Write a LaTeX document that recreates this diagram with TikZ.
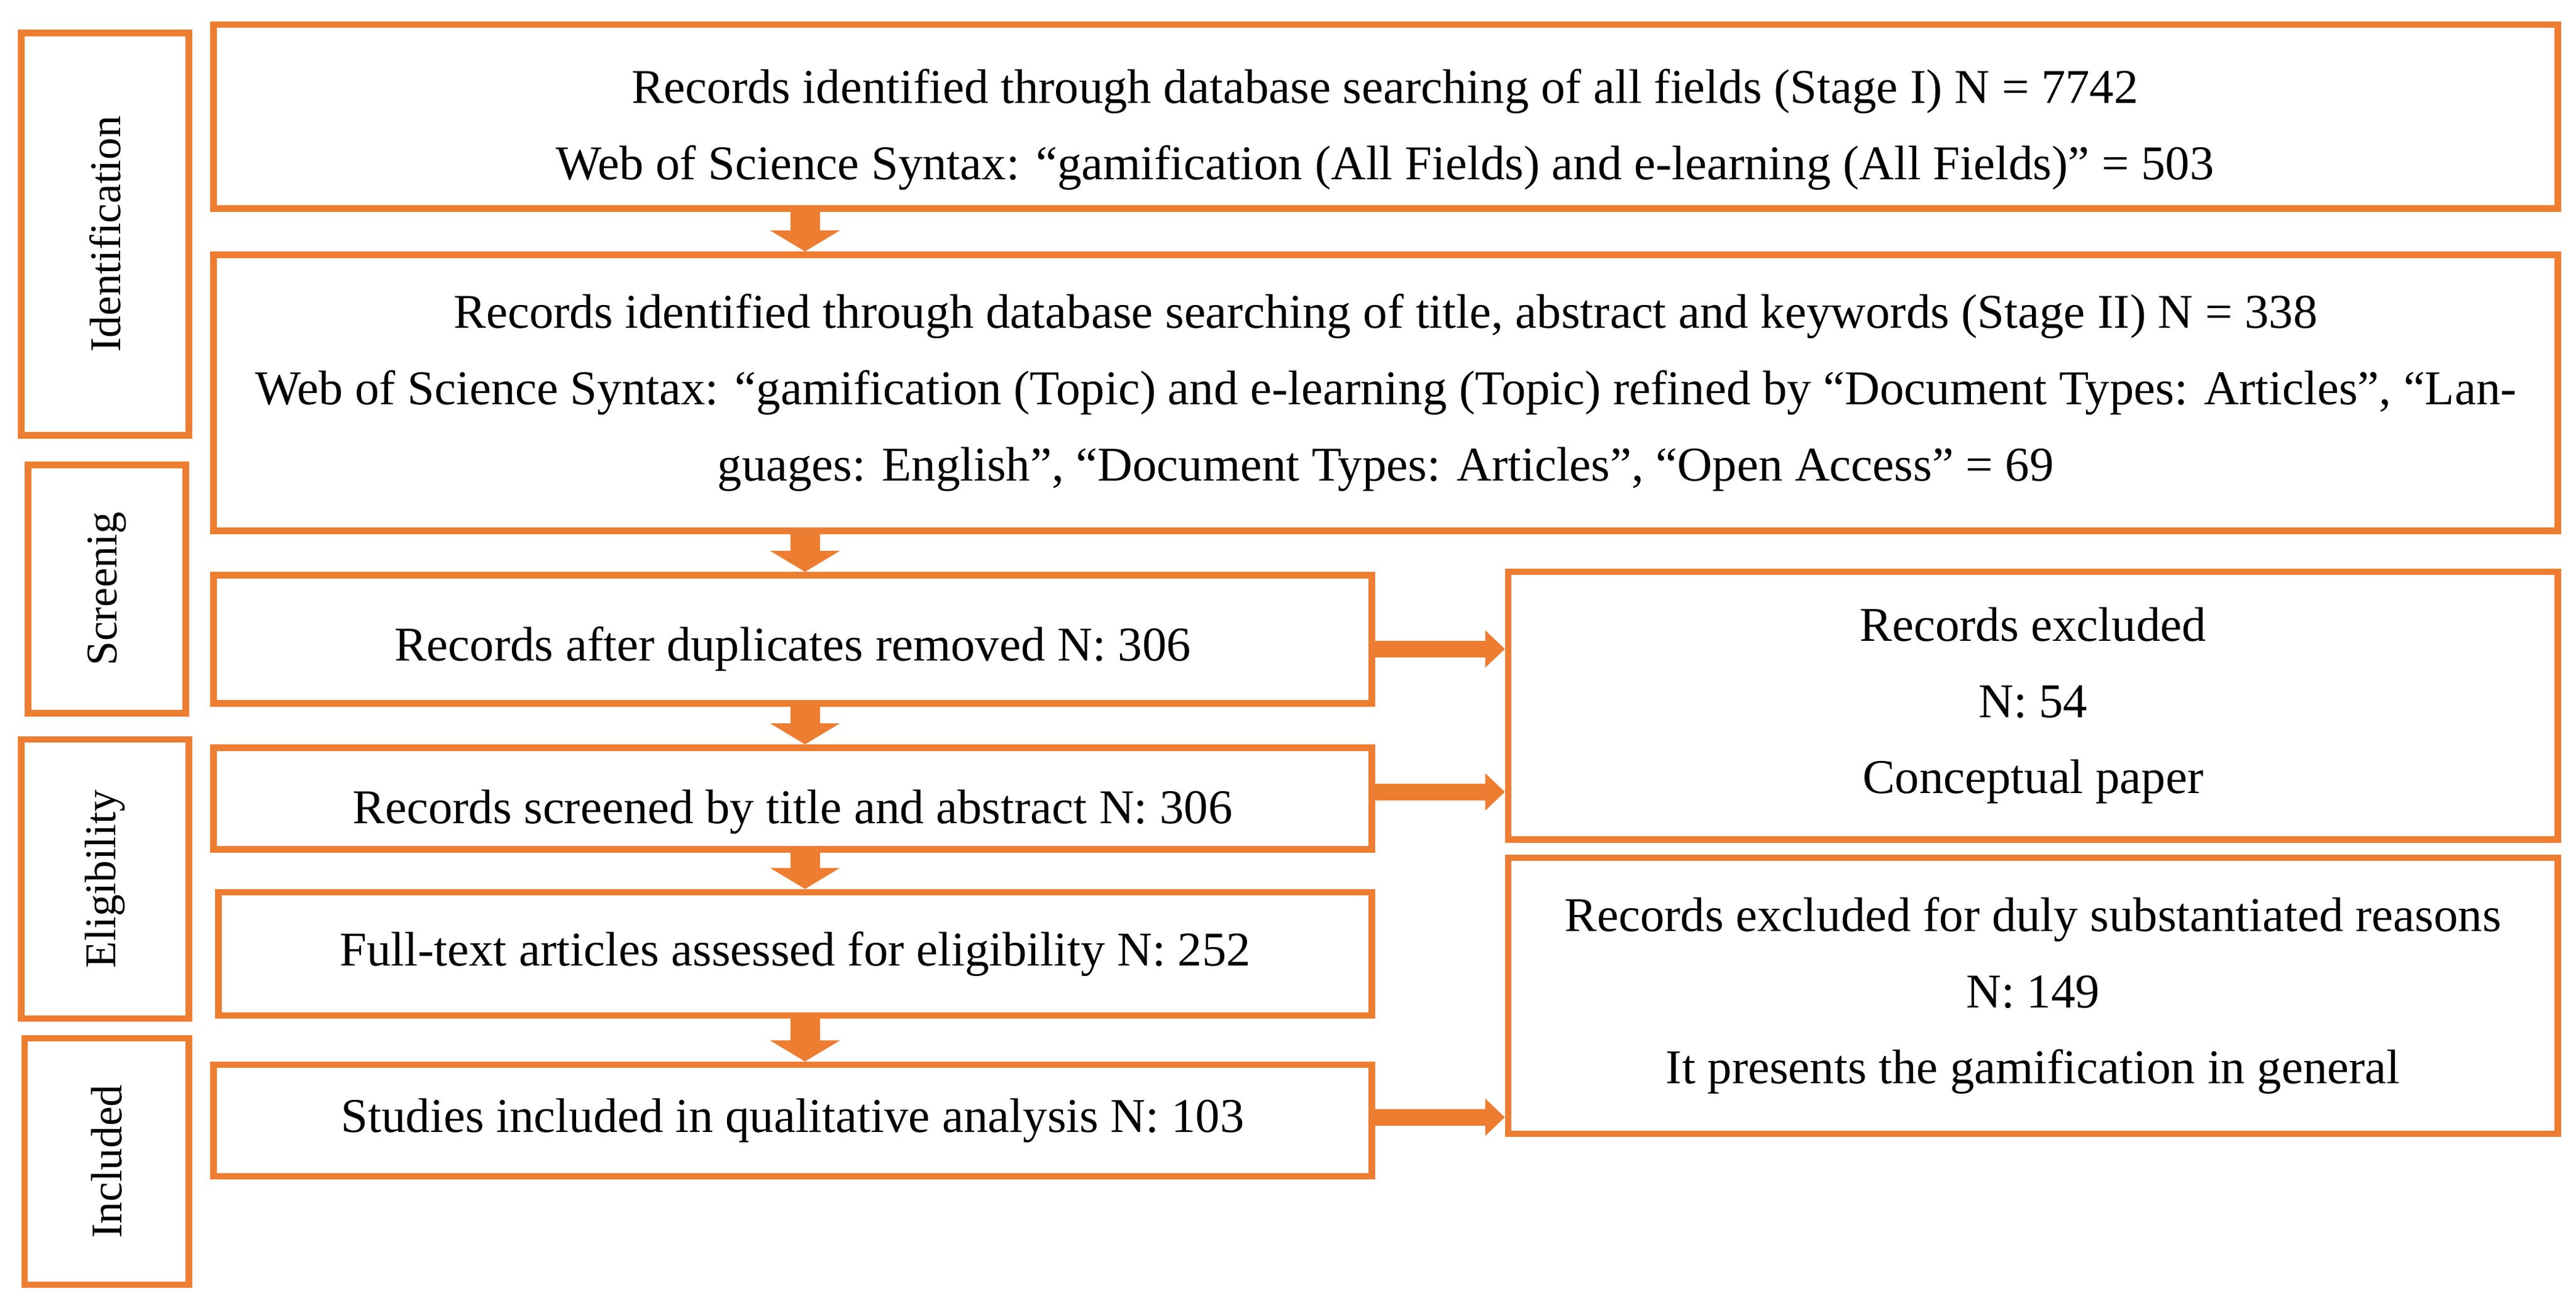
\documentclass[tikz,border=0pt]{standalone}
\usepackage{fontspec}
\setmainfont{Liberation Serif}
\usetikzlibrary{fit,arrows.meta}
\definecolor{org}{HTML}{ED7D31}
\begin{document}
\begin{tikzpicture}[x=0.025cm,y=-0.025cm,
 box/.style={draw=org,line width=2.8pt,inner sep=0pt,align=center,font=\fontsize{21}{33}\selectfont},
 side/.style={draw=org,line width=2.8pt,inner sep=0pt},
 slab/.style={rotate=90,font=\fontsize{19}{22}\selectfont},
 darr/.style={org,line width=0.45cm,-{Triangle[width=1.05cm,length=0.32cm]}},
 rarr/.style={org,line width=0.25cm,-{Triangle[width=0.55cm,length=0.3cm]}}]
\useasboundingbox (0,0) rectangle (1568,797);
\node[side,fit={(13,20)(115,265)}] (id) {};
\node[slab] at (id.center) {Identification};
\node[side,fit={(17,283)(113,434)}] (sc) {};
\node[slab] at (sc.center) {Screenig};
\node[side,fit={(13,450)(115,620)}] (el) {};
\node[slab] at (el.center) {Eligibility};
\node[side,fit={(15,632)(115,782)}] (in) {};
\node[slab] at (in.center) {Included};

\node[box,fit={(130,15)(1557,127)}] (b1) {};
\node[box,draw=none,anchor=north] (t1) at (843,40) {Records identified through database searching of all fields (Stage I) N = 7742\\Web of Science Syntax: “gamification (All Fields) and e-learning (All Fields)” = 503};
\node[box,fit={(130,155)(1557,323)}] (b2) {};
\node[box,draw=none] (t2) at (b2.center) {Records identified through database searching of title, abstract and keywords (Stage II) N = 338\\Web of Science Syntax: “gamification (Topic) and e-learning (Topic) refined by “Document Types: Articles”, “Lan-\\guages: English”, “Document Types: Articles”, “Open Access” = 69};
\node[box,fit={(130,350)(835,428)}] (b3) {};
\node[box,draw=none] at ([yshift=-0.15cm]b3.center) {Records after duplicates removed N: 306};
\node[box,fit={(130,455)(835,517)}] (b4) {};
\node[box,draw=none] at ([yshift=-0.2cm]b4.center) {Records screened by title and abstract N: 306};
\node[box,fit={(133,543)(835,618)}] (b5) {};
\node[box,draw=none] at (b5.center) {Full-text articles assessed for eligibility N: 252};
\node[box,fit={(130,648)(835,716)}] (b6) {};
\node[box,draw=none] at (b6.center) {Studies included in qualitative analysis N: 103};
\node[box,fit={(918,348)(1557,511)}] (ra) {};
\node[box,draw=none] at (ra.center) {Records excluded\\N: 54\\Conceptual paper};
\node[box,fit={(918,522)(1557,690)}] (rb) {};
\node[box,draw=none] at (rb.center) {Records excluded for duly substantiated reasons\\N: 149\\It presents the gamification in general};

\coordinate (ax) at (490,0);
\draw[darr] (b1.south -| ax) -- (b2.north -| ax);
\draw[darr] (b2.south -| ax) -- (b3.north -| ax);
\draw[darr] (b3.south -| ax) -- (b4.north -| ax);
\draw[darr] (b4.south -| ax) -- (b5.north -| ax);
\draw[darr] (b5.south -| ax) -- (b6.north -| ax);
\coordinate (y3) at (0,395);
\coordinate (y4) at (0,482);
\coordinate (y6) at (0,680);
\draw[rarr] (b3.east |- y3) -- (ra.west |- y3);
\draw[rarr] (b4.east |- y4) -- (ra.west |- y4);
\draw[rarr] (b6.east |- y6) -- (rb.west |- y6);
\end{tikzpicture}
\end{document}
